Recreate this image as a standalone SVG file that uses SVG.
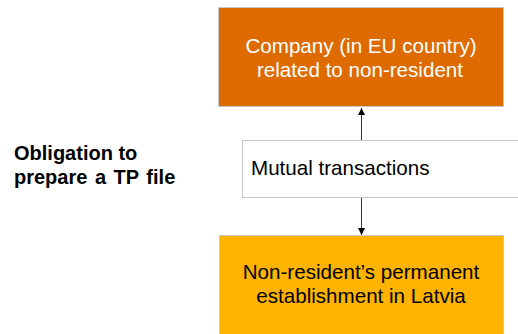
<svg xmlns="http://www.w3.org/2000/svg" width="518" height="334" viewBox="0 0 518 334">
<style>
text{font-family:"Liberation Sans",Arial,sans-serif;font-size:20.6px;text-anchor:middle}
.lbl{font-weight:bold;text-anchor:start;font-size:20px}
.box{stroke:#c8c8c8;stroke-width:1}
.conn{stroke:#333;stroke-width:1;fill:none}
</style>
<defs>
<marker id="ah" viewBox="0 0 10 10" refX="10" refY="5" markerWidth="7" markerHeight="7" orient="auto" markerUnits="userSpaceOnUse">
<path d="M0,0L10,5L0,10z" fill="#000"/>
</marker>
</defs>
<rect width="518" height="334" fill="#fff"/>
<g id="label">
<text class="lbl" x="14" y="160">Obligation to</text>
<text class="lbl" x="14" y="184" word-spacing="2">prepare a TP file</text>
</g>
<g id="company">
<rect class="box" x="218.5" y="7.5" width="285" height="99" fill="#dd6b00"/>
<text x="361" y="53" fill="#fff">Company (in EU country)</text>
<text x="360" y="77" fill="#fff">related to non-resident</text>
</g>
<g id="mutual">
<rect class="box" x="242.5" y="140.5" width="280" height="57" fill="#fff"/>
<text x="251" y="175" fill="#000" style="text-anchor:start">Mutual transactions</text>
</g>
<g id="establishment">
<rect class="box" x="219.5" y="235.5" width="284" height="104" fill="#feb300"/>
<text x="361" y="279" fill="#000">Non-resident’s permanent</text>
<text x="361" y="303" fill="#000">establishment in Latvia</text>
</g>
<g id="connectors">
<line class="conn" x1="361.5" y1="140" x2="361.5" y2="108" marker-end="url(#ah)"/>
<line class="conn" x1="361.5" y1="198" x2="361.5" y2="235" marker-end="url(#ah)"/>
</g>
</svg>
